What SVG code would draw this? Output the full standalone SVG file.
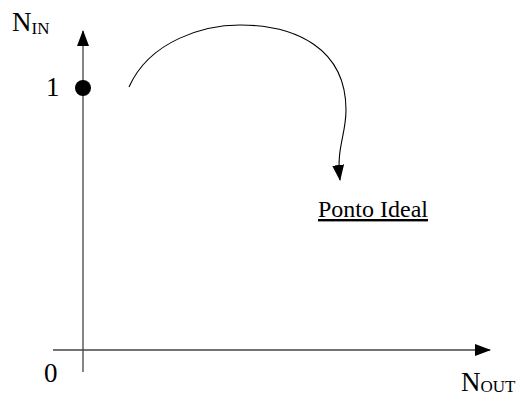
<svg xmlns="http://www.w3.org/2000/svg" width="520" height="398" viewBox="0 0 520 398">
<style>
.ax{stroke:#444;stroke-width:1.3;fill:none}
.cv{stroke:#000;stroke-width:1.1;fill:none}
.t{font-family:'Liberation Serif','Times New Roman',serif;fill:#000;font-size:27px}
.sub{font-size:17px}
</style>
<defs>
<marker id="ah" markerWidth="16" markerHeight="12" refX="15" refY="6" orient="auto" markerUnits="userSpaceOnUse">
<path d="M0,0 L16,6 L0,12 Z" fill="#000"/>
</marker>
</defs>
<g id="connectors">
<line class="ax" x1="83" y1="372" x2="83" y2="31" marker-end="url(#ah)"/>
<line class="ax" x1="53" y1="350" x2="490" y2="350" marker-end="url(#ah)"/>
<path class="cv" d="M129,87 C150,40 205,25 240,25 C295,25 346,48 346,110 C346,135 336,148 340,180" marker-end="url(#ah)"/>
</g>
<g id="point-1">
<circle cx="83" cy="88" r="8" fill="#000"/>
<text class="t" x="46" y="96">1</text>
</g>
<g id="label-nin">
<text class="t" x="12" y="31">N<tspan class="sub" dy="3">IN</tspan></text>
</g>
<g id="label-zero">
<text class="t" x="44" y="382">0</text>
</g>
<g id="label-nout">
<text class="t" x="461" y="391">N<tspan class="sub" dy="1">OUT</tspan></text>
</g>
<g id="ponto-ideal">
<text class="t" x="318" y="217" style="font-size:24px" text-decoration="underline">Ponto Ideal</text>
</g>
</svg>
